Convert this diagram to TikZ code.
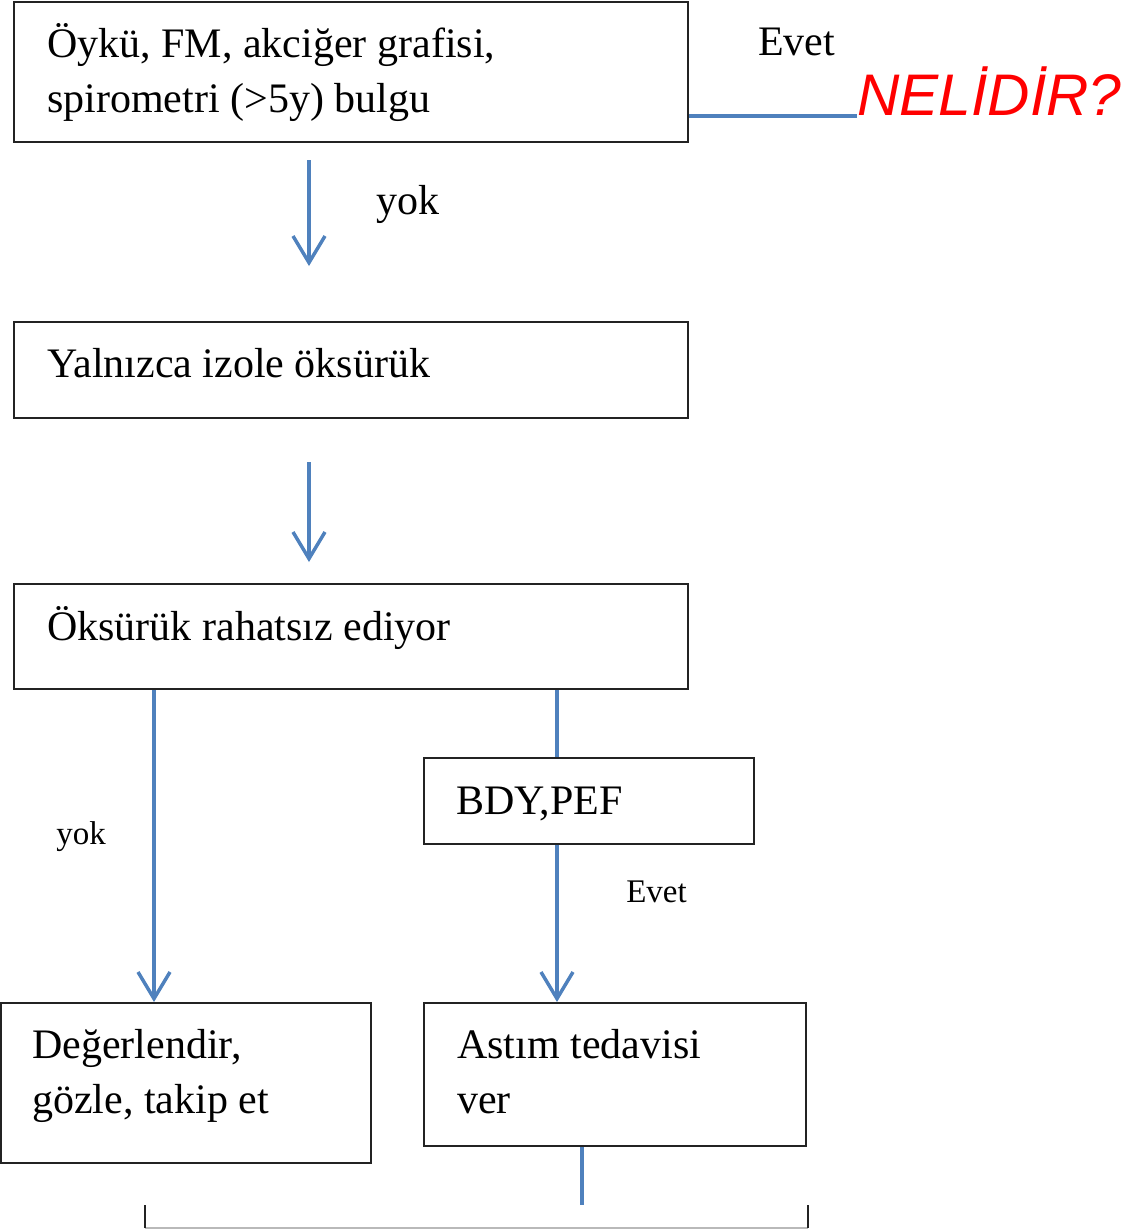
\documentclass[tikz,border=0pt]{standalone}
\usepackage{fontspec}
\setmainfont{Liberation Serif}
\newfontfamily\markfont{Liberation Sans}
\usetikzlibrary{arrows.meta,fit}
\definecolor{flowblue}{RGB}{79,129,189}
\definecolor{boxgray}{RGB}{35,35,35}
\definecolor{rulegray}{RGB}{185,185,185}
\begin{document}
\begin{tikzpicture}[x=0.75pt,y=-0.75pt,
  box/.style={draw=boxgray,line width=1.5pt,inner sep=0pt},
  txt/.style={anchor=base west,inner sep=0pt,font=\fontsize{31.5}{42}\selectfont},
  smalltxt/.style={anchor=base west,inner sep=0pt,font=\fontsize{24.75}{33}\selectfont},
  flow/.style={draw=flowblue,line width=2.6pt},
  arr/.style={flow,-{Straight Barb[length=20pt,width=24pt,line width=2.6pt]}}]
\useasboundingbox (0,0) rectangle (1127,1229);

% boxes
\node[box,fit={(14,2) (688,142)}] (b1) {};
\node[box,fit={(14,322) (688,418)}] (b2) {};
\node[box,fit={(14,584) (688,689)}] (b3) {};
\node[box,fit={(424,758) (754,844)}] (b4) {};
\node[box,fit={(1,1003) (371,1163)}] (b5) {};
\node[box,fit={(424,1003) (806,1146)}] (b6) {};

% box texts
\node[txt] (t1a) at (47,57) {Öykü, FM, akciğer grafisi,};
\node[txt] (t1b) at (47,112) {spirometri (>5y) bulgu};
\node[txt] (t2) at (47,377) {Yalnızca izole öksürük};
\node[txt] (t3) at (47,640) {Öksürük rahatsız ediyor};
\node[txt] (t4) at (456,814) {BDY,PEF};
\node[txt] (t5a) at (32,1058) {Değerlendir,};
\node[txt] (t5b) at (32,1113) {gözle, takip et};
\node[txt] (t6a) at (457,1058) {Astım tedavisi};
\node[txt] (t6b) at (457,1113) {ver};

% edge labels
\node[txt] (l1) at (758,55) {Evet};
\node[txt] (l2) at (376,214) {yok};
\node[smalltxt] (l3) at (56,844) {yok};
\node[smalltxt] (l4) at (626,902) {Evet};
\node[anchor=base west,inner sep=0pt,text=red,
      font=\markfont\itshape\fontsize{44}{50}\selectfont] (q) at (857,115) {NELİDİR?};

% connectors
\coordinate (a1s) at (309,160);
\coordinate (a1e) at (309,266);
\coordinate (a2s) at (309,462);
\coordinate (a2e) at (309,562);
\coordinate (xl) at (154,0);
\coordinate (xr) at (557,0);
\coordinate (xb) at (582,1205);

\draw[flow] (b1.east |- 0,116) -- (q.west |- 0,116);
\draw[arr] (a1s) -- (a1e);
\draw[arr] (a2s) -- (a2e);
\draw[arr] (b3.south -| xl) -- (b5.north -| xl);
\draw[flow] (b3.south -| xr) -- (b4.north -| xr);
\draw[arr] (b4.south -| xr) -- (b6.north -| xr);
\draw[flow] (b6.south -| xb) -- (xb);

% partly visible box below
\coordinate (c1) at (145,1205);
\coordinate (c2) at (808,1205);
\coordinate (c3) at (145,1227.5);
\coordinate (c4) at (808,1227.5);
\draw[rulegray,line width=1.5pt] (c3) -- (c4);
\draw[boxgray,line width=1.5pt] (c1) -- (c3) (c2) -- (c4);
\end{tikzpicture}
\end{document}
